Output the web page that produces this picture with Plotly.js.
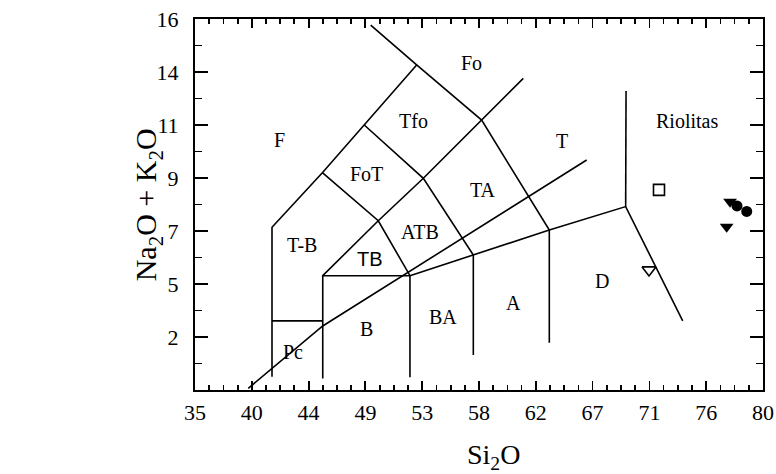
<!DOCTYPE html>
<html>
<head>
<meta charset="utf-8">
<script src="https://cdn.plot.ly/plotly-3.0.1.min.js"></script>
<style>html,body{margin:0;padding:0;background:#fff;}#chart{width:776px;height:474px;}</style>
</head>
<body>
<div id="chart"></div>
<script>
// Axis ticks
const xTickVals = [35, 39.5, 44, 48.5, 53, 57.5, 62, 66.5, 71, 75.5, 80];
const xTickText = ['35', '40', '44', '49', '53', '58', '62', '67', '71', '76', '80'];
const yTickVals = [0, 16/7, 32/7, 48/7, 64/7, 80/7, 96/7, 16];
const yTickText = ['', '2', '5', '7', '9', '11', '14', '16'];

// Field boundary lines (SiO2, Na2O+K2O)
const lineFo_x = [48.92, 52.56, 57.71, 63.07, 63.07];
const lineFo_y = [15.74, 14.02, 11.64, 6.90, 2.04];
const lineF_x = [52.56, 48.41, 45.09, 41.10, 41.10];
const lineF_y = [14.02, 11.43, 9.37, 7.02, 0.57];
const lineTfo_x = [61.01, 57.71, 53.09, 49.52, 45.12];
const lineTfo_y = [13.44, 11.64, 9.13, 7.30, 4.93];
const lineTA_x = [48.41, 53.09, 57.05, 57.05];
const lineTA_y = [11.43, 9.13, 5.82, 1.51];
const lineATB_x = [45.09, 49.52, 52.03, 52.03];
const lineATB_y = [9.37, 7.30, 4.93, 0.55];
const lineTB_x = [52.03, 45.12, 45.12];
const lineTB_y = [4.93, 4.93, 0.50];
const linePc_x = [41.10, 45.12];
const linePc_y = [2.98, 2.98];
const lineD_x = [52.03, 57.05, 63.07, 69.12, 73.64];
const lineD_y = [4.93, 5.82, 6.90, 7.91, 2.98];
const lineR_x = [69.15, 69.12];
const lineR_y = [12.90, 7.91];
const lineAlk_x = [39.22, 45.12, 66.03];
const lineAlk_y = [0.07, 2.76, 9.92];

// Samples
const sqX = [71.76], sqY = [8.63];
const triOpenX = [70.97], triOpenY = [5.18];
const triX = [77.39, 77.12], triY = [8.12, 7.04];
const cirX = [77.94, 78.71], cirY = [7.94, 7.70];

// Field labels
const fieldNames = ['Fo', 'Tfo', 'F', 'FoT', 'T-B', 'TB', 'ATB', 'TA', 'T', 'Riolitas', 'D', 'A', 'BA', 'B', 'Pc'];
const fieldX = [56.92, 52.30, 41.68, 48.60, 43.45, 48.86, 52.83, 57.79, 64.05, 73.98, 67.24, 60.22, 54.62, 48.60, 42.79];
const fieldY = [14.10, 11.60, 10.78, 9.32, 6.25, 5.65, 6.80, 8.63, 10.74, 11.60, 4.70, 3.74, 3.14, 2.62, 1.63];

// minor tick positions (4 per major interval on x, 2 on y)
const xMinor = [];
for (let i = 0; i < xTickVals.length - 1; i++) for (let k = 1; k < 4; k++) xMinor.push(xTickVals[i] + k * (xTickVals[i+1] - xTickVals[i]) / 4);
const yMinor = [];
for (let i = 0; i < yTickVals.length - 1; i++) yMinor.push((yTickVals[i] + yTickVals[i+1]) / 2);

const serif = 'Liberation Serif, Times New Roman, serif';
const lineStyle = {color: '#000', width: 1.6};
function ln(x, y) { return {x: x, y: y, mode: 'lines', line: lineStyle, hoverinfo: 'skip', showlegend: false}; }

const traces = [
  ln(lineFo_x, lineFo_y), ln(lineF_x, lineF_y), ln(lineTfo_x, lineTfo_y),
  ln(lineTA_x, lineTA_y), ln(lineATB_x, lineATB_y), ln(lineTB_x, lineTB_y),
  ln(linePc_x, linePc_y), ln(lineD_x, lineD_y), ln(lineR_x, lineR_y),
  ln(lineAlk_x, lineAlk_y),
  {x: sqX, y: sqY, mode: 'markers', marker: {symbol: 'square-open', size: 11, color: '#000', line: {width: 1.6}}, showlegend: false},
  {x: triOpenX, y: triOpenY, mode: 'markers', marker: {symbol: 'triangle-down-open', size: 12, color: '#000', line: {width: 1.6}}, showlegend: false},
  {x: triX, y: triY, mode: 'markers', marker: {symbol: 'triangle-down', size: 12, color: '#000'}, showlegend: false},
  {x: cirX, y: cirY, mode: 'markers', marker: {symbol: 'circle', size: 11, color: '#000'}, showlegend: false}
];

const annotations = fieldNames.map((t, i) => ({
  x: fieldX[i], y: fieldY[i], text: t, showarrow: false, xref: 'x', yref: 'y',
  font: {family: t === 'TB' ? 'Liberation Sans, Arial, sans-serif' : serif, size: 20, color: '#000'}
}));
annotations.push({xref: 'paper', yref: 'paper', x: 0.525, y: -0.18, yanchor: 'middle', showarrow: false,
  text: 'Si<sub>2</sub>O', font: {family: serif, size: 28, color: '#000'}});
annotations.push({xref: 'paper', yref: 'paper', x: -0.083, y: 0.5, xanchor: 'center', yanchor: 'middle', textangle: -90, showarrow: false,
  text: 'Na<sub>2</sub>O + K<sub>2</sub>O', font: {family: serif, size: 30, color: '#000'}});

const axisCommon = {
  showgrid: false, zeroline: false, showline: true, linecolor: '#000', linewidth: 2,
  mirror: 'allticks', ticks: 'inside', tickwidth: 1.8, tickcolor: '#000',
  tickfont: {family: serif, size: 22, color: '#000'}
};

const layout = {
  width: 776, height: 474,
  margin: {l: 195, r: 13, t: 19, b: 84},
  paper_bgcolor: '#fff', plot_bgcolor: '#fff',
  showlegend: false,
  xaxis: Object.assign({}, axisCommon, {
    range: [35, 80], tickmode: 'array', tickvals: xTickVals, ticktext: xTickText, ticklen: 9, ticklabelstandoff: 2,
    minor: {tickmode: 'array', tickvals: xMinor, ticklen: 5, tickcolor: '#000', tickwidth: 1.8, ticks: 'inside'}
  }),
  yaxis: Object.assign({}, axisCommon, {
    range: [0, 16], tickmode: 'array', tickvals: yTickVals, ticktext: yTickText, ticklen: 13, ticklabelstandoff: 10,
    minor: {tickmode: 'array', tickvals: yMinor, ticklen: 7, tickcolor: '#000', tickwidth: 1.8, ticks: 'inside'}
  }),
  annotations: annotations
};

Plotly.newPlot('chart', traces, layout, {displayModeBar: false, staticPlot: true});
</script>
</body>
</html>
